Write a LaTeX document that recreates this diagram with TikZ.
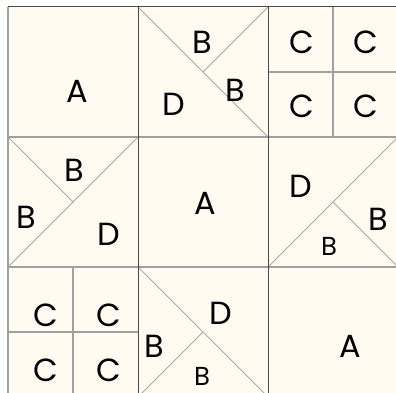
\documentclass[tikz,border=0pt]{standalone}
\usepackage{fontspec}
\setmainfont{Poppins}
\definecolor{bg}{HTML}{FFFBF0}
\definecolor{dark}{HTML}{4A4A4A}
\definecolor{light}{HTML}{A0A0A0}
\definecolor{diag}{HTML}{A8A8A8}
\begin{document}
\begin{tikzpicture}[x=1pt,y=-1pt,
  lbl/.style={inner sep=0pt,font=\fontsize{32}{32}\selectfont},
  lbls/.style={inner sep=0pt,font=\fontsize{26}{26}\selectfont},
  vline/.style={draw=dark,line width=1pt},
  hline/.style={draw=light,line width=1.6pt},
  inner/.style={draw=light,line width=1.2pt},
  dg/.style={draw=diag,line width=1pt}]
\useasboundingbox (0,0) rectangle (396,393);
\fill[white] (0,0) rectangle (396,393);
\begin{scope}
\clip (0,0) rectangle (396,393);
\fill[bg] (8,7) rectangle (398,397);
% diagonals
\draw[dg] (138,7) -- (268,137);
\draw[dg] (268,7) -- (203,72);
\draw[dg] (8,267) -- (138,137);
\draw[dg] (8,137) -- (73,202);
\draw[dg] (268,267) -- (398,137);
\draw[dg] (333,202) -- (398,267);
\draw[dg] (138,267) -- (203,332);
\draw[dg] (138,397) -- (203,332);
\draw[dg] (203,332) -- (268,397);
% inner quarter lines
\draw[inner] (333,7) -- (333,137);
\draw[inner] (268,72) -- (398,72);
\draw[inner] (73,267) -- (73,397);
\draw[inner] (8,332) -- (138,332);
% block lines
\draw[hline] (8,137) -- (398,137);
\draw[hline] (8,267) -- (398,267);
\draw[hline] (8,7) -- (8,397);
\draw[vline] (138,7) -- (138,397);
\draw[vline] (268,7) -- (268,397);
\draw[vline] (8,7) -- (398,7);
% labels
\node[lbl] (a1) at (77,91) {A};
\node[lbl] (b1) at (202,42) {B};
\node[lbl] (b2) at (235,90) {B};
\node[lbl] (d1) at (174,104) {D};
\node[lbl] (c1) at (302,42) {C};
\node[lbl] (c2) at (366,42) {C};
\node[lbl] (c3) at (302,106) {C};
\node[lbl] (c4) at (366,106) {C};
\node[lbl] (b3) at (74,170) {B};
\node[lbl] (b4) at (26,217) {B};
\node[lbl] (d2) at (109,234) {D};
\node[lbl] (a2) at (205,203) {A};
\node[lbl] (d3) at (301,186) {D};
\node[lbl] (b5) at (378,219) {B};
\node[lbls] (b6) at (329,246) {B};
\node[lbl] (c5) at (46,315) {C};
\node[lbl] (c6) at (109,315) {C};
\node[lbl] (c7) at (46,370) {C};
\node[lbl] (c8) at (109,370) {C};
\node[lbl] (b7) at (154,346) {B};
\node[lbl] (d4) at (221,313) {D};
\node[lbls] (b8) at (202,376) {B};
\node[lbl] (a3) at (350,346) {A};
\end{scope}
\end{tikzpicture}
\end{document}
